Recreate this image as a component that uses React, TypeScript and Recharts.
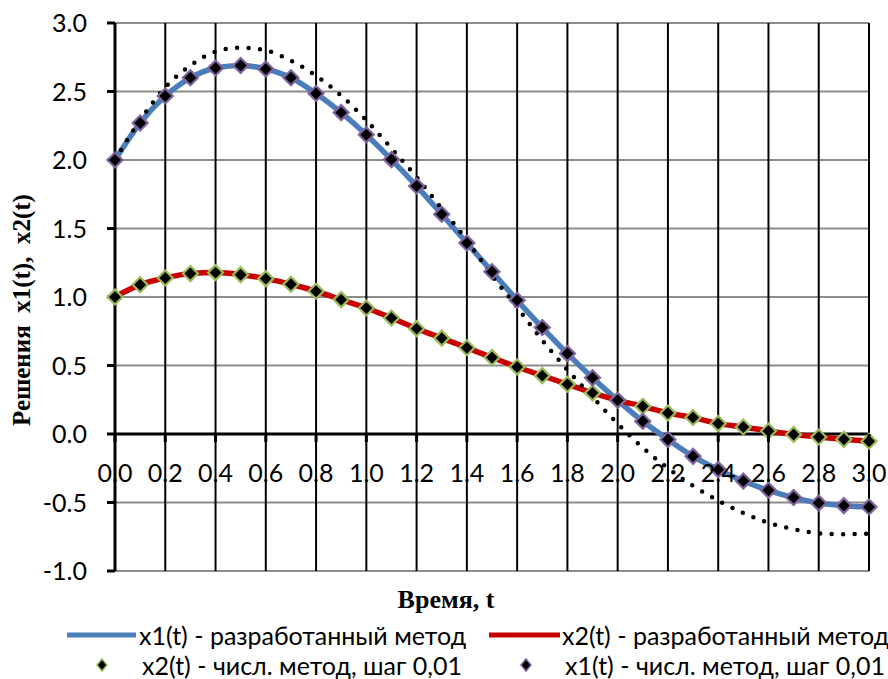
import React from 'react';
import { ComposedChart, Line, XAxis, YAxis, CartesianGrid, ReferenceLine, Legend } from 'recharts';

// ---- data ----
const tValues = [0, 0.1, 0.2, 0.3, 0.4, 0.5, 0.6, 0.7, 0.8, 0.9, 1.0, 1.1, 1.2, 1.3, 1.4, 1.5, 1.6, 1.7, 1.8, 1.9, 2.0, 2.1, 2.2, 2.3, 2.4, 2.5, 2.6, 2.7, 2.8, 2.9, 3.0];

const x1Method = [2.0, 2.27, 2.467, 2.6, 2.672, 2.69, 2.664, 2.6, 2.485, 2.346, 2.185, 2.003, 1.81, 1.604, 1.394, 1.185, 0.976, 0.777, 0.587, 0.41, 0.246, 0.093, -0.04, -0.163, -0.26, -0.343, -0.411, -0.464, -0.504, -0.523, -0.533];
const x2Method = [1.0, 1.09, 1.139, 1.171, 1.178, 1.163, 1.134, 1.093, 1.042, 0.981, 0.92, 0.847, 0.769, 0.7, 0.63, 0.558, 0.489, 0.426, 0.363, 0.3, 0.246, 0.202, 0.153, 0.12, 0.076, 0.051, 0.022, -0.004, -0.022, -0.039, -0.053];
const x1Numeric = [2.0, 2.27, 2.467, 2.6, 2.672, 2.69, 2.664, 2.6, 2.485, 2.346, 2.185, 2.003, 1.81, 1.604, 1.394, 1.185, 0.976, 0.777, 0.587, 0.41, 0.246, 0.093, -0.04, -0.163, -0.26, -0.343, -0.411, -0.464, -0.504, -0.523, -0.533];
const x2Numeric = [1.0, 1.09, 1.139, 1.171, 1.178, 1.163, 1.134, 1.093, 1.042, 0.981, 0.92, 0.847, 0.769, 0.7, 0.63, 0.558, 0.489, 0.426, 0.363, 0.3, 0.246, 0.202, 0.153, 0.12, 0.076, 0.051, 0.022, -0.004, -0.022, -0.039, -0.053];
const dottedCurve = [2.0, 2.29, 2.53, 2.69, 2.79, 2.82, 2.8, 2.725, 2.615, 2.47, 2.29, 2.085, 1.875, 1.645, 1.414, 1.155, 0.925, 0.685, 0.468, 0.27, 0.076, -0.1, -0.25, -0.378, -0.486, -0.576, -0.648, -0.695, -0.725, -0.732, -0.727];

const xTicks = [0, 0.2, 0.4, 0.6, 0.8, 1.0, 1.2, 1.4, 1.6, 1.8, 2.0, 2.2, 2.4, 2.6, 2.8, 3.0];
const yTicks = [-1, -0.5, 0, 0.5, 1, 1.5, 2, 2.5, 3];

const xTitle = 'Время, t';
const yTitle = 'Решения  x1(t),  x2(t)';
const legendX1Method = 'x1(t) - разработанный метод';
const legendX2Method = 'x2(t) - разработанный метод';
const legendX2Numeric = 'x2(t) - числ. метод, шаг 0,01';
const legendX1Numeric = 'x1(t) - числ. метод, шаг 0,01';

const data = tValues.map((t, i) => ({
  t,
  x1: x1Method[i],
  x2: x2Method[i],
  x1n: x1Numeric[i],
  x2n: x2Numeric[i],
  dotted: dottedCurve[i],
}));

// ---- style ----
const BLUE = '#4A7EBB';
const RED = '#C80000';
const GREEN = '#9BBB59';
const PURPLE = '#8064A2';
const SANS = "Lato, 'Noto Sans', sans-serif";
const SERIF = "'Liberation Serif', 'Times New Roman', serif";

const Y_MIN = -1;
const Y_MAX = 3;
const PLOT_H = 548;

const XTick = (props: any) => {
  const { x, y, payload } = props;
  const zeroY = y - (PLOT_H * (0 - Y_MIN)) / (Y_MAX - Y_MIN);
  return (
    <g>
      <line x1={x} x2={x} y1={zeroY} y2={zeroY + 8} stroke="#000" strokeWidth={3} />
      <text x={x} y={zeroY + 48} textAnchor="middle" fontFamily={SANS} fontSize={25} fill="#000">
        {Number(payload.value).toFixed(1)}
      </text>
    </g>
  );
};

const YTick = (props: any) => {
  const { x, y, payload } = props;
  return (
    <text x={x} y={y} dy="0.36em" textAnchor="end" fontFamily={SANS} fontSize={25} fill="#000">
      {Number(payload.value).toFixed(1)}
    </text>
  );
};

const makeDiamond = (stroke: string) => (props: any) => {
  const { cx, cy, index } = props;
  if (cx == null || cy == null) return <g key={index} />;
  const r = 7.5;
  return (
    <path
      key={index}
      d={`M${cx},${cy - r} L${cx + r},${cy} L${cx},${cy + r} L${cx - r},${cy} Z`}
      fill="#000"
      stroke={stroke}
      strokeWidth={2.2}
    />
  );
};

const XLabel = (props: any) => {
  const vb = props.viewBox || {};
  return (
    <text
      x={vb.x + vb.width / 2 - 46}
      y={608}
      textAnchor="middle"
      fontFamily={SERIF}
      fontWeight="bold"
      fontSize={26}
      fill="#000"
    >
      {xTitle}
    </text>
  );
};

const YLabel = (props: any) => {
  const vb = props.viewBox || {};
  const cx = 21;
  const cy = vb.y + vb.height / 2 + 13;
  return (
    <text
      x={cx}
      y={cy}
      transform={`rotate(-90, ${cx}, ${cy})`}
      textAnchor="middle"
      dominantBaseline="central"
      fontFamily={SERIF}
      fontWeight="bold"
      fontSize={25}
      fill="#000"
      style={{ whiteSpace: 'pre' }}
    >
      {yTitle}
    </text>
  );
};

const LegendContent = () => {
  const textStyle: React.CSSProperties = {
    position: 'absolute',
    fontFamily: SANS,
    fontSize: 25,
    color: '#000',
    whiteSpace: 'pre',
    lineHeight: '28px',
  };
  return (
    <div style={{ position: 'relative', width: 888, height: 60 }}>
      <svg width={888} height={60} style={{ position: 'absolute', left: 0, top: 0 }}>
        <line x1={67} x2={136} y1={16} y2={16} stroke={BLUE} strokeWidth={5} />
        <line x1={489} x2={560} y1={16} y2={16} stroke={RED} strokeWidth={5} />
        <path d="M102,40 L107,46 L102,52 L97,46 Z" fill="#000" stroke={GREEN} strokeWidth={1.5} />
        <path d="M526,40 L531,46 L526,52 L521,46 Z" fill="#000" stroke={PURPLE} strokeWidth={1.5} />
      </svg>
      <span style={{ ...textStyle, left: 139, top: 2 }}>{legendX1Method}</span>
      <span style={{ ...textStyle, left: 562, top: 2 }}>{legendX2Method}</span>
      <span style={{ ...textStyle, left: 142, top: 32 }}>{legendX2Numeric}</span>
      <span style={{ ...textStyle, left: 565, top: 32 }}>{legendX1Numeric}</span>
    </div>
  );
};

function XLabelWrapper(props: any) {
  return <XLabel {...props} />;
}
function YLabelWrapper(props: any) {
  return <YLabel {...props} />;
}

export default function App() {
  return (
    <div style={{ position: 'absolute', left: 0, top: 0, width: 888, height: 679, background: '#fff' }}>
      <ComposedChart width={888} height={679} data={data} margin={{ top: 23, right: 19, left: 0, bottom: 0 }}>
        <CartesianGrid horizontal={true} vertical={false} stroke="#8C8C8C" strokeWidth={2} />
        <CartesianGrid horizontal={false} vertical={true} stroke="#000" strokeWidth={2} />
        <XAxis
          dataKey="t"
          type="number"
          domain={[0, 3]}
          ticks={xTicks}
          interval={0}
          axisLine={false}
          tickLine={false}
          tickSize={0}
          tickMargin={0}
          height={48}
          tick={<XTick />}
          label={<XLabelWrapper />}
        />
        <YAxis
          type="number"
          domain={[Y_MIN, Y_MAX]}
          ticks={yTicks}
          interval={0}
          width={115}
          axisLine={{ stroke: '#000', strokeWidth: 3 }}
          tickLine={{ stroke: '#000', strokeWidth: 3 }}
          tickSize={8}
          tickMargin={20}
          tick={<YTick />}
          label={<YLabelWrapper />}
        />
        <ReferenceLine y={0} stroke="#000" strokeWidth={3} />
        <Line type="monotone" dataKey="x1" stroke={BLUE} strokeWidth={5.5} dot={false} isAnimationActive={false} />
        <Line type="monotone" dataKey="x2" stroke={RED} strokeWidth={5.5} dot={false} isAnimationActive={false} />
        <Line
          type="monotone"
          dataKey="dotted"
          stroke="#000"
          strokeWidth={4.5}
          strokeDasharray="0 11.5"
          strokeLinecap="round"
          dot={false}
          isAnimationActive={false}
        />
        <Line type="monotone" dataKey="x2n" stroke="none" dot={makeDiamond(GREEN)} isAnimationActive={false} />
        <Line type="monotone" dataKey="x1n" stroke="none" dot={makeDiamond(PURPLE)} isAnimationActive={false} />
        <Legend verticalAlign="bottom" content={<LegendContent />} />
      </ComposedChart>
    </div>
  );
}
